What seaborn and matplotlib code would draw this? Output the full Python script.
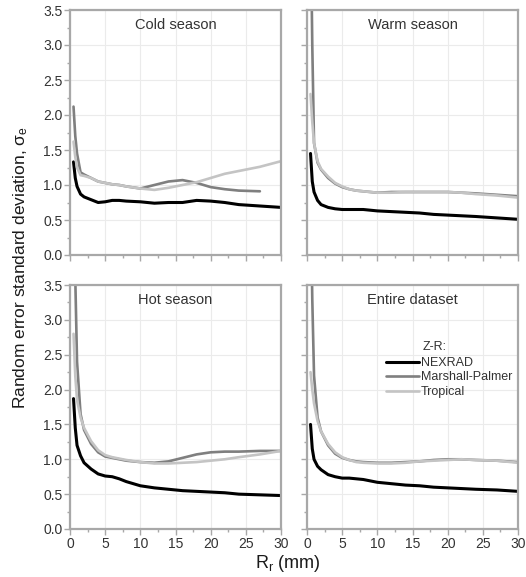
import numpy as np
import pandas as pd
import matplotlib
matplotlib.use("Agg")
import matplotlib.pyplot as plt
from matplotlib.ticker import MultipleLocator, FormatStrFormatter
import seaborn as sns

# ---------------- data ----------------
x_r = [0.5, 0.75, 1, 1.5, 2, 3, 4, 5, 6, 7, 8, 10, 12, 14, 16, 18, 20, 22, 24, 27, 30]

cold_nexrad = [1.33, 1.10, 0.98, 0.87, 0.83, 0.79, 0.75, 0.76, 0.78, 0.78, 0.77, 0.76, 0.74, 0.75, 0.75, 0.78, 0.77, 0.75, 0.72, 0.70, 0.68]
cold_mp     = [2.12, 1.70, 1.45, 1.18, 1.15, 1.10, 1.05, 1.03, 1.01, 1.00, 0.98, 0.95, 1.00, 1.05, 1.07, 1.03, 0.97, 0.94, 0.92, 0.91, np.nan]
cold_trop   = [1.62, 1.40, 1.25, 1.14, 1.13, 1.10, 1.05, 1.03, 1.01, 1.00, 0.98, 0.95, 0.93, 0.96, 1.00, 1.04, 1.10, 1.16, 1.20, 1.26, 1.34]

warm_nexrad = [1.45, 1.05, 0.90, 0.78, 0.72, 0.68, 0.66, 0.65, 0.65, 0.65, 0.65, 0.63, 0.62, 0.61, 0.60, 0.58, 0.57, 0.56, 0.55, 0.53, 0.51]
warm_mp     = [5.00, 3.00, 1.60, 1.32, 1.22, 1.10, 1.02, 0.97, 0.94, 0.92, 0.91, 0.89, 0.90, 0.90, 0.90, 0.90, 0.90, 0.89, 0.88, 0.86, 0.84]
warm_trop   = [2.30, 1.90, 1.60, 1.34, 1.23, 1.12, 1.03, 0.98, 0.94, 0.92, 0.91, 0.89, 0.89, 0.90, 0.90, 0.90, 0.90, 0.89, 0.87, 0.85, 0.82]

hot_nexrad  = [1.87, 1.45, 1.20, 1.05, 0.95, 0.86, 0.79, 0.76, 0.75, 0.72, 0.68, 0.62, 0.59, 0.57, 0.55, 0.54, 0.53, 0.52, 0.50, 0.49, 0.48]
hot_mp      = [5.00, 3.60, 2.40, 1.65, 1.42, 1.22, 1.10, 1.04, 1.02, 1.00, 0.98, 0.96, 0.95, 0.97, 1.02, 1.07, 1.10, 1.11, 1.11, 1.12, 1.12]
hot_trop    = [2.80, 2.20, 1.85, 1.60, 1.45, 1.26, 1.13, 1.06, 1.03, 1.01, 0.99, 0.96, 0.94, 0.94, 0.95, 0.96, 0.98, 1.00, 1.03, 1.07, 1.12]

all_nexrad  = [1.50, 1.15, 1.00, 0.90, 0.85, 0.78, 0.75, 0.73, 0.73, 0.72, 0.71, 0.67, 0.65, 0.63, 0.62, 0.60, 0.59, 0.58, 0.57, 0.56, 0.54]
all_mp      = [5.00, 3.30, 2.20, 1.60, 1.40, 1.20, 1.08, 1.02, 0.99, 0.97, 0.96, 0.95, 0.95, 0.96, 0.97, 0.99, 1.00, 1.00, 0.99, 0.98, 0.96]
all_trop    = [2.25, 2.00, 1.80, 1.55, 1.40, 1.22, 1.10, 1.03, 0.99, 0.96, 0.95, 0.94, 0.94, 0.95, 0.97, 0.98, 0.99, 1.00, 0.99, 0.98, 0.95]

models = ["NEXRAD", "Marshall-Palmer", "Tropical"]
panel_titles = ["Cold season", "Warm season", "Hot season", "Entire dataset"]
panel_data = [
    (cold_nexrad, cold_mp, cold_trop),
    (warm_nexrad, warm_mp, warm_trop),
    (hot_nexrad, hot_mp, hot_trop),
    (all_nexrad, all_mp, all_trop),
]
x_ticks = [0, 5, 10, 15, 20, 25, 30]
y_ticks = [0.0, 0.5, 1.0, 1.5, 2.0, 2.5, 3.0, 3.5]

# ---------------- style ----------------
sns.set_style("white")
plt.rcParams["font.family"] = ["Liberation Sans", "DejaVu Sans"]
plt.rcParams["mathtext.default"] = "regular"

palette = {"NEXRAD": "#000000", "Marshall-Palmer": "#7f7f7f", "Tropical": "#c4c4c4"}
sizes = {"NEXRAD": 2.2, "Marshall-Palmer": 1.9, "Tropical": 1.9}
spine_c = "#a8a8a8"
text_c = "#333333"

fig = plt.figure(figsize=(5.26, 5.77), dpi=100)
W, H = 526, 577
boxes = [(70, 10, 281, 255), (307, 10, 518, 255), (70, 285, 281, 529), (307, 285, 518, 529)]

for i, (box, title, series) in enumerate(zip(boxes, panel_titles, panel_data)):
    l, t, r, b = box
    ax = fig.add_axes([l / W, 1 - b / H, (r - l) / W, (b - t) / H])
    rows = []
    for m, vals in zip(models, series):
        for xv, yv in zip(x_r, vals):
            rows.append({"R": xv, "sigma": yv, "model": m})
    df = pd.DataFrame(rows).dropna()
    sns.lineplot(data=df, x="R", y="sigma", hue="model", size="model",
                 hue_order=models, size_order=models, palette=palette, sizes=sizes,
                 ax=ax, legend=False, estimator=None, sort=True)
    ax.set_xlim(0, 30)
    ax.set_ylim(0, 3.5)
    ax.set_xticks(x_ticks)
    ax.set_yticks(y_ticks)
    ax.xaxis.set_minor_locator(MultipleLocator(2.5))
    ax.yaxis.set_minor_locator(MultipleLocator(0.25))
    ax.yaxis.set_major_formatter(FormatStrFormatter("%.1f"))
    ax.grid(True, which="major", color="#ebebeb", lw=0.8)
    ax.set_axisbelow(True)
    for s in ax.spines.values():
        s.set_color(spine_c)
        s.set_linewidth(1.6)
        s.set_visible(True)
    ax.tick_params(which="both", direction="out", color=spine_c, width=1.0,
                   labelsize=10, labelcolor=text_c, pad=1.5)
    ax.tick_params(which="major", length=4)
    ax.tick_params(which="minor", length=2.5)
    ax.tick_params(bottom=True, left=True, top=False, right=False, which="both")
    ax.set_xlabel("")
    ax.set_ylabel("")
    if i < 2:
        ax.tick_params(labelbottom=False)
    if i % 2 == 1:
        ax.tick_params(labelleft=False)
    ax.text(0.5, 0.94, title, transform=ax.transAxes, ha="center", va="center",
            fontsize=10.5, color=text_c)
    if i == 3:
        handles = ax.get_lines()[:3]
        ax.legend(handles, models, loc="upper left", bbox_to_anchor=(0.375, 0.705),
                  frameon=False, fontsize=9, handlelength=2.6, handletextpad=0.15,
                  labelspacing=0.2, borderpad=0, borderaxespad=0, labelcolor=text_c)
        ax.text(0.55, 0.745, "Z-R:", transform=ax.transAxes, ha="left", va="center",
                fontsize=9, color=text_c)

fig.text(21 / W, 1 - 268 / H, r"Random error standard deviation, σ$_{e}$", rotation=90,
         ha="center", va="center", fontsize=12.5, color="#1a1a1a")
fig.text(288 / W, 1 - 563 / H, r"R$_{r}$ (mm)", ha="center", va="center",
         fontsize=13, color="#1a1a1a")

fig.savefig("out.png", dpi=100)
